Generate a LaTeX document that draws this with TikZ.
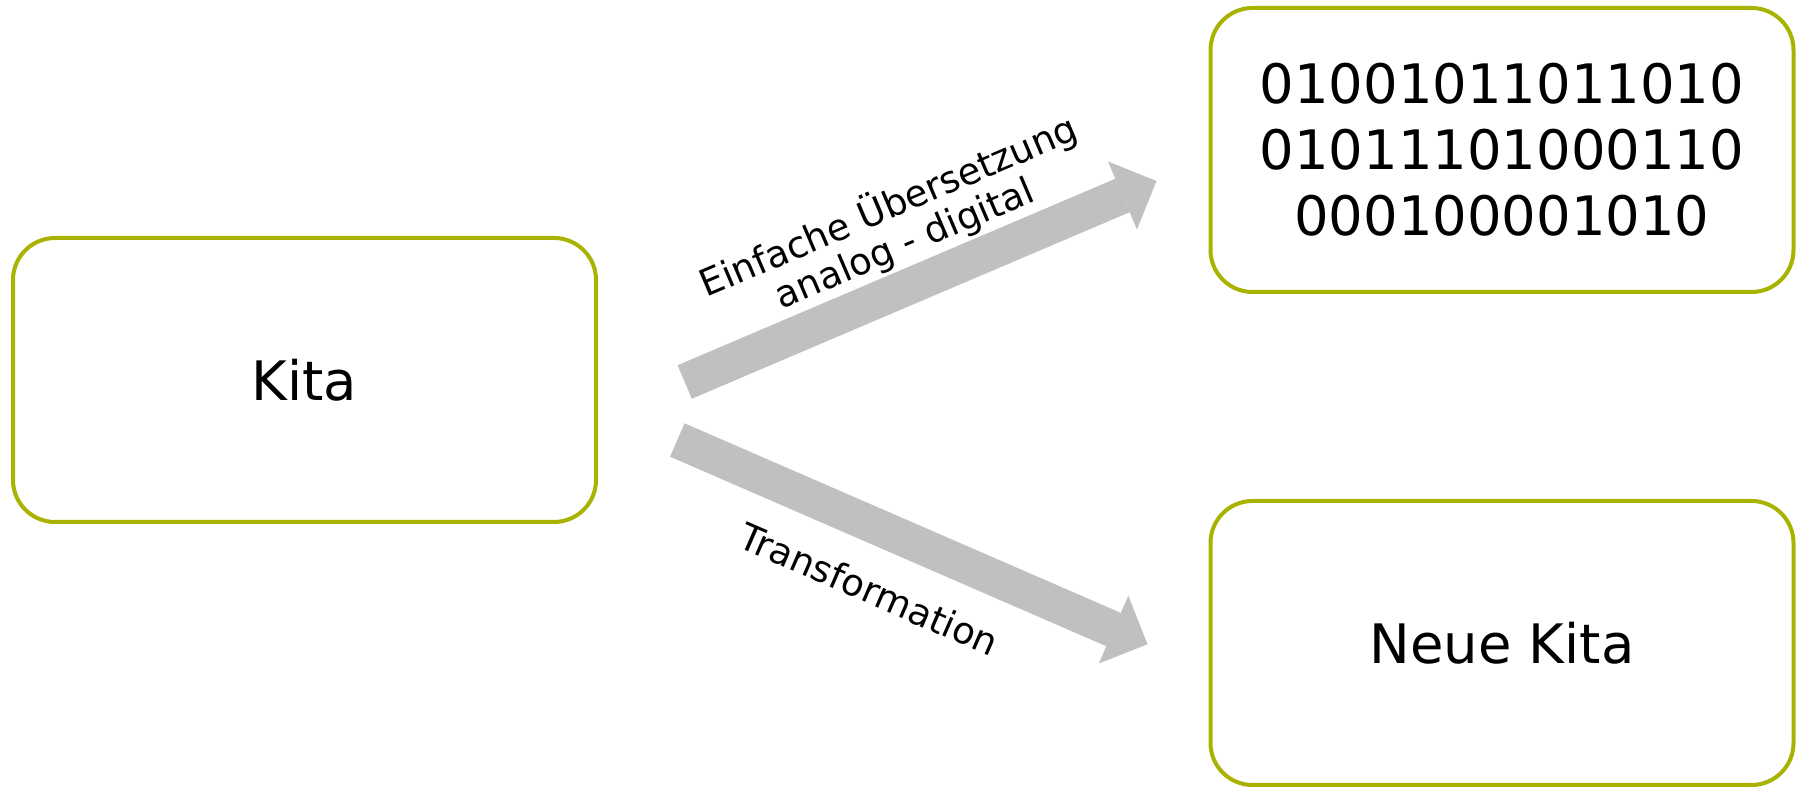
\documentclass[tikz,border=0pt]{standalone}
\usepackage{fontspec}
\setmainfont{DejaVu Sans}
\usetikzlibrary{calc,arrows.meta}
\definecolor{kitagreen}{RGB}{168,178,0}
\definecolor{arrowgray}{RGB}{192,192,192}
\tikzset{
  box/.style={
    draw=kitagreen, line width=2pt, rounded corners=21pt,
    minimum width=291.5pt, minimum height=142pt, align=center,
    font=\fontsize{27.2}{33}\selectfont
  },
  bigarrow/.style={
    draw=arrowgray, line width=18.2pt,
    -{Triangle[width=37pt,length=18.5pt,line width=0pt]}
  },
  lbl/.style={
    font=\fontsize{18.5}{20}\selectfont, align=center, sloped
  }
}

\begin{document}
\begin{tikzpicture}[x=0.5pt,y=0.5pt]
  \useasboundingbox (0,0) rectangle (1796,787);

  \node[box] (kita) at (304.5,407) {Kita};
  \node[box] (digital) at (1502,637) {01001011011010\\01011101000110\\000100001010};
  \node[box] (neu) at (1502,144) {Neue Kita};

  % free ends of the two arrows
  \coordinate (up-from) at ($(kita.east)+(86.7,-2)$);
  \coordinate (up-to) at ($(digital.west)+(-52,-31)$);
  \coordinate (down-from) at ($(kita.east)+(79.3,-60)$);
  \coordinate (down-to) at ($(neu.west)+(-61,-1.3)$);

  \draw[bigarrow] (up-from) -- node[lbl, above=-1.8pt, pos=0.5]
    {Einfache Übersetzung\\analog - digital} (up-to);
  \draw[bigarrow] (down-from) -- node[lbl, below=10.6pt, pos=0.46]
    {Transformation} (down-to);
\end{tikzpicture}
\end{document}
